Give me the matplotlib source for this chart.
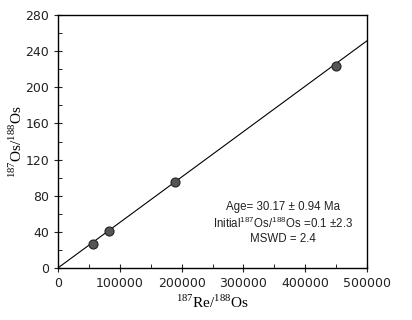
import numpy as np
import matplotlib
matplotlib.use("Agg")
import matplotlib.pyplot as plt
from matplotlib.ticker import MultipleLocator

plt.rcParams['mathtext.fontset'] = 'custom'
plt.rcParams['mathtext.rm'] = 'Liberation Serif'
plt.rcParams['mathtext.sf'] = 'Liberation Sans'

re_os = [56000, 83000, 189000, 450000]
os_os = [27, 41, 95, 224]
age_ma = 30.17
initial = 0.1
decay = 1.666e-11
line_x = [0, 500000]

fig = plt.figure(figsize=(4.12, 3.2), dpi=100)
ax = fig.add_axes([58/412, 1-268/320, 309/412, 253/320])

slope = np.exp(decay * age_ma * 1e6) - 1
ax.plot(line_x, [initial + slope * v for v in line_x], color='black', lw=0.8, zorder=2)
ax.plot(re_os, os_os, 'o', ms=6.5, mfc='#555555', mec='#222222', mew=0.8, zorder=3)

ax.set_xlim(0, 500000)
ax.set_ylim(0, 280)
ax.xaxis.set_major_locator(MultipleLocator(100000))
ax.xaxis.set_minor_locator(MultipleLocator(50000))
ax.yaxis.set_major_locator(MultipleLocator(40))
ax.yaxis.set_minor_locator(MultipleLocator(20))
ax.tick_params(which='major', direction='inout', length=6, width=0.8, labelsize=9, colors='#222222')
ax.tick_params(which='minor', direction='in', length=3, width=0.6)
for s in ax.spines.values():
    s.set_linewidth(1.0)

ax.set_xlabel(r'$^{\mathrm{187}}$Re/$^{\mathrm{188}}$Os', family='Liberation Serif', fontsize=11, labelpad=3)
ax.set_ylabel(r'$^{\mathrm{187}}$Os/$^{\mathrm{188}}$Os', family='Liberation Serif', fontsize=11, labelpad=0)

txt = ('Age= %.2f \u00b1 0.94 Ma\nInitial$^{\\mathsf{187}}$Os/$^{\\mathsf{188}}$Os =%.1f \u00b12.3\nMSWD = 2.4' % (age_ma, initial))
ax.text(0.728, 0.178, txt, transform=ax.transAxes, ha='center', va='center',
        fontsize=8.3, linespacing=1.25, color='#222222', family='Liberation Sans')

fig.savefig('out.png', dpi=100)
